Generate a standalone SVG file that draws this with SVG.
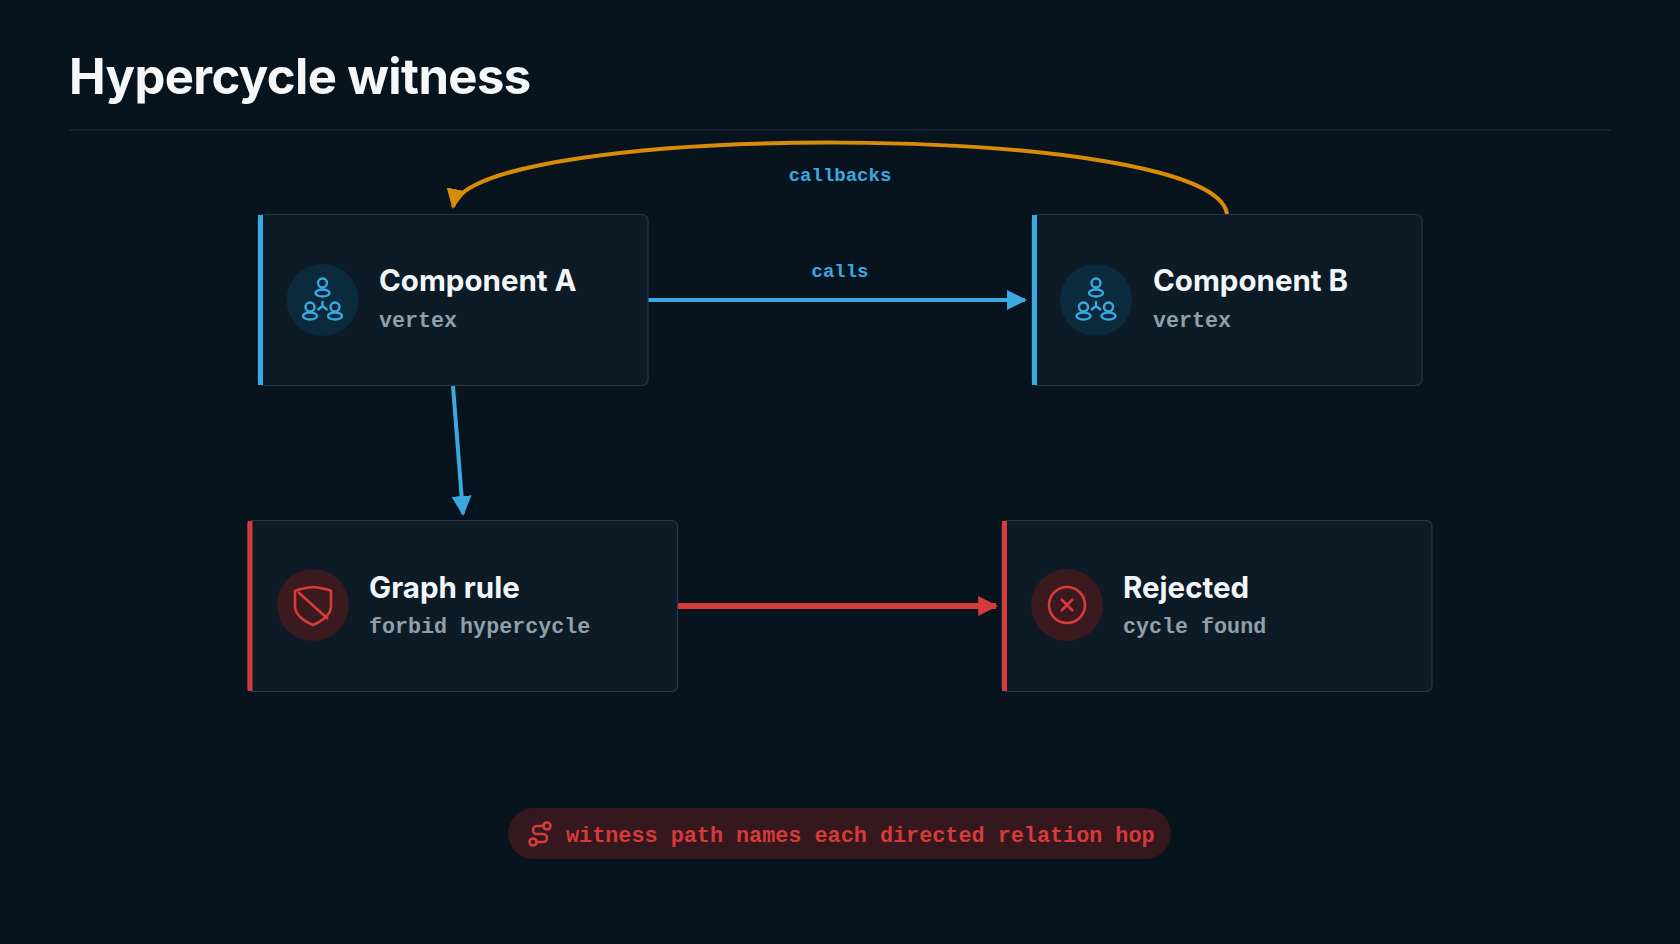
<svg xmlns="http://www.w3.org/2000/svg" width="1680" height="944" viewBox="0 0 1680 944">
<style>
.card{fill:#0d1b27;stroke:#253a4a;stroke-width:1.2}
.t{font-family:Inter,"Liberation Sans",sans-serif;font-weight:700;font-size:29.5px;fill:#f3f6f8}
.s{font-family:"Liberation Mono",monospace;font-size:21.7px;font-weight:600;fill:#8fa0ab}
.lbl{font-family:"Liberation Mono",monospace;font-weight:700;font-size:19px;fill:#3aa9e0;text-anchor:middle}
.ib{fill:none;stroke:#3aa9e0;stroke-width:2.4}
.ir{fill:none;stroke:#d63a3a;stroke-width:2.6}
</style>
<defs>
<marker id="ab" viewBox="0 0 10 10" refX="9" refY="5" markerWidth="5" markerHeight="5" orient="auto"><path d="M0,0L10,5L0,10z" fill="#3aa9e0"/></marker>
<marker id="ar" viewBox="0 0 10 10" refX="9" refY="5" markerWidth="3.3" markerHeight="3.3" orient="auto"><path d="M0,0L10,5L0,10z" fill="#d63a3a"/></marker>
<marker id="ao" viewBox="0 0 10 10" refX="9" refY="5" markerWidth="5" markerHeight="5" orient="auto"><path d="M0,0L10,5L0,10z" fill="#d98c0a"/></marker>
</defs>
<rect width="1680" height="944" fill="#07141d"/>
<text x="69" y="94" font-family="Inter,'Liberation Sans',sans-serif" font-weight="700" font-size="49" letter-spacing="-0.6" fill="#f5f7f9">Hypercycle witness</text>
<line x1="69" y1="130" x2="1611" y2="130" stroke="#26343f" stroke-width="1.2"/>
<g id="connectors" fill="none">
<path d="M1227,214 C1215,120 470,120 453,207" stroke="#d98c0a" stroke-width="4" marker-end="url(#ao)"/>
<text class="lbl" x="840" y="181">callbacks</text>
<line x1="648" y1="300" x2="1025" y2="300" stroke="#3aa9e0" stroke-width="4" marker-end="url(#ab)"/>
<text class="lbl" x="840" y="277">calls</text>
<line x1="453" y1="386" x2="463" y2="514" stroke="#3aa9e0" stroke-width="4" marker-end="url(#ab)"/>
<line x1="678" y1="606" x2="996" y2="606" stroke="#d63a3a" stroke-width="6" marker-end="url(#ar)"/>
</g>
<g id="compA">
<rect class="card" x="258" y="214.5" width="390" height="171" rx="6"/>
<rect x="258" y="215" width="5" height="170" fill="#3aa9e0"/>
<circle cx="322.5" cy="300" r="36" fill="#0b2a3d"/>
<g class="ib"><circle cx="322.5" cy="283" r="4.5"/><ellipse cx="322.5" cy="293" rx="7" ry="3.5"/><circle cx="310" cy="307" r="4.5"/><ellipse cx="310" cy="316" rx="7" ry="3.5"/><circle cx="335" cy="307" r="4.5"/><ellipse cx="335" cy="316" rx="7" ry="3.5"/><path d="M322.5,301v5M322.5,306l-5,4M322.5,306l5,4"/></g>
<text class="t" x="379" y="291">Component A</text>
<text class="s" x="379" y="327">vertex</text>
</g>
<g id="compB">
<rect class="card" x="1032" y="214.5" width="390" height="171" rx="6"/>
<rect x="1032" y="215" width="5" height="170" fill="#3aa9e0"/>
<circle cx="1096" cy="300" r="36" fill="#0b2a3d"/>
<g class="ib"><circle cx="1096" cy="283" r="4.5"/><ellipse cx="1096" cy="293" rx="7" ry="3.5"/><circle cx="1083.5" cy="307" r="4.5"/><ellipse cx="1083.5" cy="316" rx="7" ry="3.5"/><circle cx="1108.5" cy="307" r="4.5"/><ellipse cx="1108.5" cy="316" rx="7" ry="3.5"/><path d="M1096,301v5M1096,306l-5,4M1096,306l5,4"/></g>
<text class="t" x="1153" y="291">Component B</text>
<text class="s" x="1153" y="327">vertex</text>
</g>
<g id="graphRule">
<rect class="card" x="247.5" y="520.5" width="430" height="171" rx="6"/>
<rect x="247.5" y="521" width="5" height="170" fill="#d63a3a"/>
<circle cx="313" cy="605" r="36" fill="#3a1a1e"/>
<path class="ir" d="M313,587 C304,588 299,589 295,591 V606 C295,615 304,621 313,625 C322,621 331,615 331,606 V591 C327,589 322,588 313,587 Z M298,592 L328,619"/>
<text class="t" x="369" y="598">Graph rule</text>
<text class="s" x="369" y="633">forbid hypercycle</text>
</g>
<g id="rejected">
<rect class="card" x="1002" y="520.5" width="430" height="171" rx="6"/>
<rect x="1002" y="521" width="5" height="170" fill="#d63a3a"/>
<circle cx="1067" cy="605" r="36" fill="#3a1a1e"/>
<circle class="ir" cx="1067" cy="605" r="18"/>
<path class="ir" d="M1061,599l12,12M1073,599l-12,12"/>
<text class="t" x="1123" y="598">Rejected</text>
<text class="s" x="1123" y="633">cycle found</text>
</g>
<g id="note">
<rect x="508" y="808" width="663" height="51" rx="25.5" fill="#35181d"/>
<g class="ir" stroke-width="2"><circle cx="547" cy="826" r="3.5"/><circle cx="533" cy="842" r="3.5"/><path d="M543.5,826 H537 A4,4 0 0 0 537,834 H543 A4,4 0 0 1 543,842 H536.5"/></g>
<text x="566" y="842" font-family="'Liberation Mono',monospace" font-weight="700" font-size="21.8" fill="#d63a3a">witness path names each directed relation hop</text>
</g>
</svg>
